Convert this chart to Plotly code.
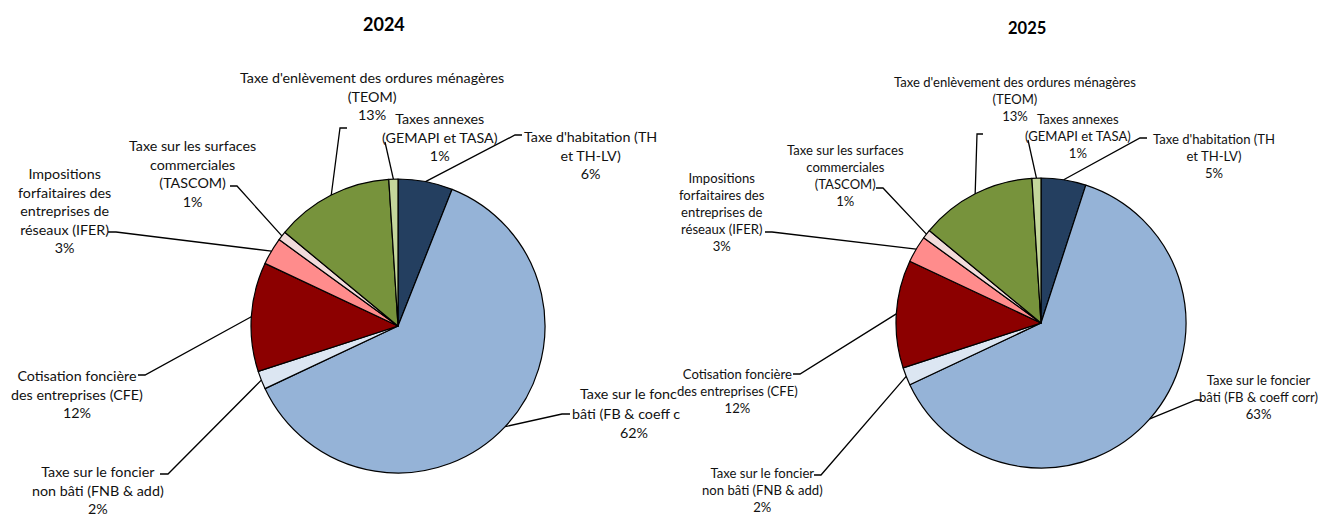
import math
import plotly.graph_objects as go

# window is 1329x518; the page body has an 8px margin, so the figure is 8px smaller
OFF = 8
W, H = 1329 - OFF, 518 - OFF

# ---------------- data ----------------
categories = [
    "Taxe d'habitation (TH et TH-LV)",
    "Taxe sur le foncier bâti (FB & coeff corr)",
    "Taxe sur le foncier non bâti (FNB & add)",
    "Cotisation foncière des entreprises (CFE)",
    "Impositions forfaitaires des entreprises de réseaux (IFER)",
    "Taxe sur les surfaces commerciales (TASCOM)",
    "Taxe d'enlèvement des ordures ménagères (TEOM)",
    "Taxes annexes (GEMAPI et TASA)",
]
values_2024 = [6, 62, 2, 12, 3, 1, 13, 1]
values_2025 = [5, 63, 2, 12, 3, 1, 13, 1]
years = ["2024", "2025"]

# label texts (line-broken like the original)
label_lines = [
    "Taxe d'habitation (TH<br>et TH-LV)",
    "Taxe sur le foncier<br>bâti (FB & coeff corr)",
    "Taxe sur le foncier<br>non bâti (FNB & add)",
    "Cotisation foncière<br>des entreprises (CFE)",
    "Impositions<br>forfaitaires des<br>entreprises de<br>réseaux (IFER)",
    "Taxe sur les surfaces<br>commerciales<br>(TASCOM)",
    "Taxe d'enlèvement des ordures ménagères<br>(TEOM)",
    "Taxes annexes<br>(GEMAPI et TASA)",
]

colors = ["#243F60", "#95B3D7", "#DCE6F2", "#8C0000",
          "#FF8C8C", "#F2DCDB", "#77933C", "#C3D69B"]

# ---------------- layout geometry (window pixels) ----------------
pies = [
    dict(cx=398, cy=326, r=147, font=14.3, tfont=18, title=(384, 24)),
    dict(cx=1041, cy=323, r=145, font=13.1, tfont=16.5, title=(1027, 28)),
]

# label block centres (x, y) in pixels
label_pos = [
    [(590, 155), None, (98, 490), (77, 394), (64, 211), (192, 174), (372, 96), (440, 137)],
    [(1214, 156), (1258, 397), (762, 490), (737, 391), (722, 212), (845, 176), (1015, 99), (1078, 136)],
]
# leader elbows and ends in pixels
leaders = [
    [((515, 135), (522, 135)), ((562, 414), (570, 414)), ((168, 474), (160, 474)),
     ((145, 375), (138, 375)), ((116, 232), (108, 232)), ((237, 186), (230, 186)),
     ((340, 128), (347, 128)), ((385, 142), (385, 142))],
    [((1140, 138), (1147, 138)), ((1196, 400), (1202, 400)), ((821, 475), (814, 475)),
     ((800, 374), (793, 374)), ((772, 232), (765, 232)), ((883, 188), (876, 188)),
     ((977, 134), (983, 134)), ((1028, 140), (1028, 140))],
]


def px(x):
    return (x - OFF) / W


def py(y):
    return 1 - (y - OFF) / H


fig = go.Figure()
annotations = []
shapes = []
FONT = "Lato, Carlito, Calibri, sans-serif"
TXT = "#111111"

for k, (vals, year) in enumerate(zip([values_2024, values_2025], years)):
    p = pies[k]
    fig.add_trace(go.Pie(
        labels=categories, values=vals, sort=False, direction="clockwise",
        rotation=0, textinfo="none", hoverinfo="label+percent",
        marker=dict(colors=colors, line=dict(color="black", width=1.2)),
        domain=dict(x=[px(p["cx"] - p["r"]), px(p["cx"] + p["r"])],
                    y=[py(p["cy"] + p["r"]), py(p["cy"] - p["r"])]),
        showlegend=False,
    ))
    annotations.append(dict(
        x=px(p["title"][0]), y=py(p["title"][1]), xref="paper", yref="paper",
        text="<b>%s</b>" % year, showarrow=False, xanchor="center", yanchor="middle",
        font=dict(family=FONT, size=p["tfont"], color="black")))

    total = sum(vals)
    cum = 0
    for i, v in enumerate(vals):
        mid = (cum + v / 2) / total * 2 * math.pi
        cum += v
        sx = p["cx"] + p["r"] * math.sin(mid)
        sy = p["cy"] - p["r"] * math.cos(mid)
        (ex, ey), (tx, ty) = leaders[k][i]
        path = "M %f %f L %f %f L %f %f" % (px(sx), py(sy), px(ex), py(ey), px(tx), py(ty))
        shapes.append(dict(type="path", xref="paper", yref="paper", path=path,
                           line=dict(color="black", width=1.3)))
        pct = "%d%%" % round(v / total * 100)
        pos = label_pos[k][i]
        if pos is None:
            # label clipped by the neighbouring chart in the original
            pieces = [("Taxe sur le fonc", 578, 393, "left"),
                      ("bâti (FB & coeff c", 570, 413, "left"),
                      (pct, 634, 432, "center")]
            for t, x, y, anc in pieces:
                annotations.append(dict(
                    x=px(x), y=py(y), xref="paper", yref="paper", text=t,
                    showarrow=False, xanchor=anc, yanchor="middle",
                    font=dict(family=FONT, size=p["font"], color=TXT)))
            continue
        annotations.append(dict(
            x=px(pos[0]), y=py(pos[1]), xref="paper", yref="paper",
            text=label_lines[i] + "<br>" + pct, showarrow=False,
            xanchor="center", yanchor="middle", align="center",
            font=dict(family=FONT, size=p["font"], color=TXT)))

fig.update_layout(
    width=W, height=H, margin=dict(l=0, r=0, t=0, b=0),
    paper_bgcolor="white", plot_bgcolor="white",
    annotations=annotations, shapes=shapes,
)
fig.write_html("out.html")
